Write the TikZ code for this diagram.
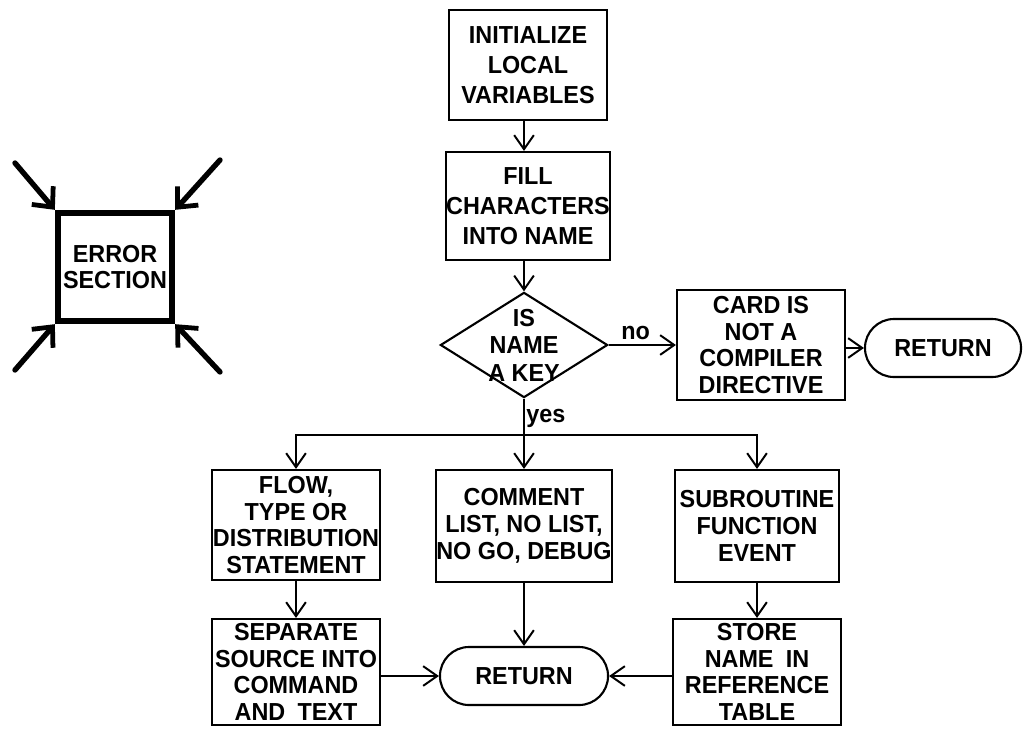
\documentclass[tikz,border=0pt]{standalone}
\usepackage{fontspec}
\setmainfont{Liberation Sans}[FakeStretch=0.95]
\usetikzlibrary{arrows.meta,shapes.geometric,shapes.misc}

\begin{document}
\begin{tikzpicture}[x=0.025cm, y=-0.025cm,
    every node/.style={font=\fontsize{17.5}{19}\selectfont\bfseries, align=center},
    stepbox/.style={draw, line width=1.5pt, inner sep=0pt, minimum width=4.2cm, minimum height=2.75cm},
    termbox/.style={draw, rounded rectangle, line width=1.5pt, inner sep=0pt, minimum width=3.9cm, minimum height=1.45cm},
    decide/.style={draw, diamond, line width=1.5pt, inner sep=0pt, minimum width=4.18cm, minimum height=2.63cm},
    flow/.style={line width=1.4pt, -{Straight Barb[length=10pt,width=14pt,line width=1.4pt]}},
    errflow/.style={line width=3.8pt, line cap=round, -{Straight Barb[length=11pt,width=20pt,line width=3.4pt]}},
    note/.style={font=\fontsize{17.5}{19}\selectfont\bfseries}]
  \useasboundingbox (0,0) rectangle (1029,730);

  % main column
  \node[stepbox, minimum width=3.95cm, font=\fontsize{17.5}{21.5}\selectfont\bfseries] (init) at (528,65) {INITIALIZE\\LOCAL\\VARIABLES};
  \node[stepbox, minimum width=3.95cm, minimum height=2.7cm, font=\fontsize{17.5}{21.5}\selectfont\bfseries] (fill) at (528,206) {FILL\\CHARACTERS\\INTO NAME};
  \node[decide, label={[align=center, font=\fontsize{17.5}{19.5}\selectfont\bfseries]center:IS\\NAME\\A KEY}] (key) at (524,345) {};
  \node[stepbox] (card) at (761,345) {CARD IS\\NOT A\\COMPILER\\DIRECTIVE};
  \node[termbox] (ret1) at (943,348) {RETURN};

  % three branches
  \node[stepbox] (kind) at (296,525) {FLOW,\\TYPE OR\\DISTRIBUTION\\STATEMENT};
  \node[stepbox, minimum width=4.25cm, minimum height=2.8cm] (opts) at (524,526) {COMMENT\\LIST, NO LIST,\\NO GO, DEBUG};
  \node[stepbox, minimum width=4.1cm, minimum height=2.8cm] (subr) at (757,526) {SUBROUTINE\\FUNCTION\\EVENT};
  \node[stepbox, minimum height=2.65cm] (split) at (296,672) {SEPARATE\\SOURCE INTO\\COMMAND\\AND\enspace TEXT};
  \node[termbox, minimum width=4.2cm] (ret2) at (524,676) {RETURN};
  \node[stepbox, minimum height=2.65cm] (store) at (757,672) {STORE\\NAME\enspace IN\\REFERENCE\\TABLE};

  % error section
  \node[draw, line width=4.5pt, minimum width=2.85cm, minimum height=2.7cm] (err) at (115,267) {ERROR\\SECTION};
  \coordinate (e1) at (15,163);
  \coordinate (e2) at (220,160);
  \coordinate (e3) at (15,370);
  \coordinate (e4) at (220,372);

  \draw[flow] (init.south -| key) -- (fill.north -| key);
  \draw[flow] (fill.south -| key) -- (key.north);
  \draw[flow] (key.east) -- node[note, above, pos=0.4] {no} (card.west);
  \draw[flow] (card.east |- ret1) -- (ret1.west);

  \coordinate (fork) at (524,435);
  \draw[flow] (key.south) -- node[note, above right, pos=0.45, inner sep=1pt] {yes} (opts.north);
  \draw[flow] (fork) -| (kind.north);
  \draw[flow] (fork) -| (subr.north);
  \draw[flow] (kind.south) -- (split.north);
  \draw[flow] (subr.south) -- (store.north);
  \draw[flow] (opts.south) -- (ret2.north);
  \draw[flow] (split.east |- ret2) -- (ret2.west);
  \draw[flow] (store.west |- ret2) -- (ret2.east);

  \draw[errflow] (e1) -- (err.north west);
  \draw[errflow] (e2) -- (err.north east);
  \draw[errflow] (e3) -- (err.south west);
  \draw[errflow] (e4) -- (err.south east);
\end{tikzpicture}
\end{document}
